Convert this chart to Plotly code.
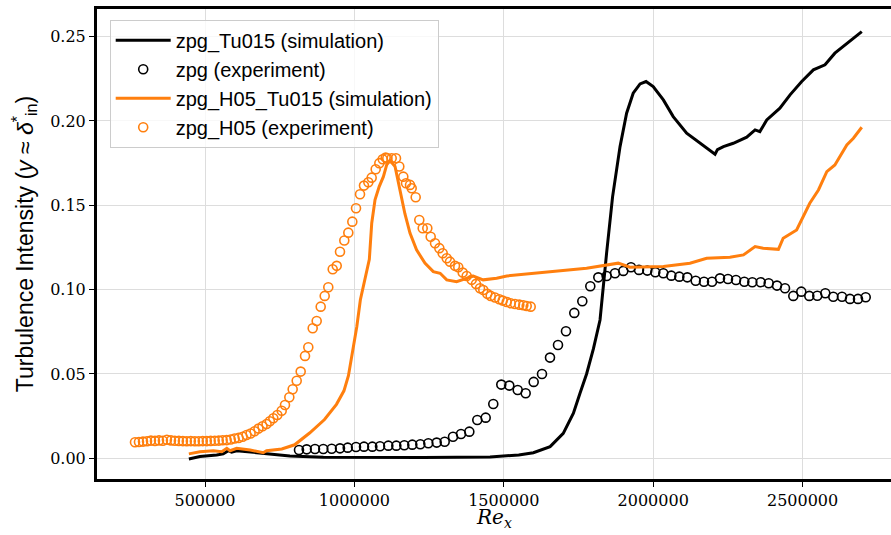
import plotly.graph_objects as go

# ---------------- data ----------------
# zpg (experiment)
zpg_exp_x = [814.6e3, 840.3e3, 868.1e3, 895.9e3, 924.0e3, 951.8e3, 977.6e3, 1005.4e3, 1032.1e3, 1060.0e3,
             1085.7e3, 1113.5e3, 1140.3e3, 1167.0e3, 1193.8e3, 1220.6e3, 1247.4e3, 1275.4e3, 1302.2e3, 1330.0e3,
             1356.8e3, 1384.6e3, 1411.3e3, 1439.4e3, 1464.8e3, 1491.6e3, 1518.4e3, 1546.5e3, 1573.2e3, 1600.0e3,
             1627.8e3, 1654.6e3, 1681.4e3, 1708.1e3, 1735.9e3, 1762.7e3, 1789.5e3, 1816.3e3, 1844.3e3, 1872.2e3,
             1899.9e3, 1925.7e3, 1952.4e3, 1980.3e3, 2007.0e3, 2033.8e3, 2060.6e3, 2087.4e3, 2114.1e3, 2142.2e3,
             2170.0e3, 2196.8e3, 2223.6e3, 2250.3e3, 2277.1e3, 2304.9e3, 2331.7e3, 2359.7e3, 2386.5e3, 2414.3e3,
             2441.1e3, 2468.9e3, 2495.6e3, 2522.4e3, 2549.2e3, 2576.0e3, 2602.7e3, 2631.9e3, 2658.6e3, 2685.4e3,
             2711.2e3]
zpg_exp_y = [0.0049, 0.0053, 0.0055, 0.0055, 0.0057, 0.0059, 0.0063, 0.0067, 0.0069, 0.0069,
             0.0071, 0.0075, 0.0075, 0.0077, 0.0081, 0.0083, 0.0089, 0.0093, 0.0098, 0.0128,
             0.0144, 0.0158, 0.0227, 0.0241, 0.0322, 0.0437, 0.0431, 0.0405, 0.0386, 0.0453,
             0.0500, 0.0597, 0.0672, 0.0753, 0.0862, 0.0931, 0.1020, 0.1073, 0.1081, 0.1097,
             0.1111, 0.1133, 0.1117, 0.1113, 0.1103, 0.1097, 0.1083, 0.1077, 0.1073, 0.1053,
             0.1047, 0.1047, 0.1067, 0.1063, 0.1057, 0.1047, 0.1044, 0.1044, 0.1038, 0.1024,
             0.1008, 0.0963, 0.0988, 0.0963, 0.0964, 0.0979, 0.0958, 0.0958, 0.0945, 0.0945,
             0.0955]

# zpg_H05 (experiment)
h05_exp_x = [265.7e3, 279.0e3, 292.5e3, 306.0e3, 319.0e3, 332.5e3, 346.0e3, 359.0e3, 372.5e3, 386.0e3,
             399.0e3, 412.5e3, 426.0e3, 439.0e3, 452.5e3, 466.0e3, 479.0e3, 492.5e3, 506.0e3, 519.0e3,
             532.5e3, 546.0e3, 559.0e3, 572.5e3, 586.0e3, 599.0e3, 612.5e3, 626.0e3, 639.0e3, 652.5e3,
             666.0e3, 679.0e3, 692.5e3, 706.0e3, 717.0e3,
             728.7e3, 742.1e3, 756.7e3, 767.7e3, 782.2e3, 793.4e3, 806.9e3, 820.2e3, 834.7e3, 845.7e3,
             860.4e3, 873.8e3, 887.2e3, 900.6e3, 912.6e3, 927.4e3, 940.8e3, 951.8e3, 966.2e3, 979.6e3,
             993.0e3, 1005.4e3, 1018.8e3, 1032.1e3, 1046.6e3, 1057.8e3, 1071.2e3, 1083.4e3, 1094.7e3, 1104.7e3,
             1110.1e3, 1124.8e3, 1139.2e3, 1150.3e3, 1163.7e3, 1172.7e3, 1186.1e3, 1191.7e3, 1205.1e3, 1217.2e3,
             1228.6e3, 1244.0e3, 1255.3e3, 1269.8e3, 1284.2e3, 1295.5e3, 1308.9e3, 1319.9e3, 1336.7e3, 1347.7e3,
             1362.4e3, 1375.8e3, 1392.6e3, 1406.9e3, 1420.3e3, 1431.4e3, 1444.7e3, 1456.1e3, 1470.5e3, 1484.9e3,
             1496.3e3, 1509.7e3, 1523.1e3, 1537.5e3, 1551.9e3, 1565.3e3, 1576.6e3, 1590.0e3]
h05_exp_y = [0.0095, 0.0097, 0.0099, 0.0101, 0.0105, 0.0103, 0.0106, 0.0104, 0.0110, 0.0106,
             0.0104, 0.0103, 0.0102, 0.0101, 0.0102, 0.0101, 0.0101, 0.0102, 0.0102, 0.0103,
             0.0104, 0.0105, 0.0107, 0.0108, 0.0111, 0.0117, 0.0121, 0.0128, 0.0138, 0.0147,
             0.0160, 0.0176, 0.0190, 0.0203, 0.0220,
             0.0237, 0.0257, 0.0282, 0.0316, 0.0362, 0.0409, 0.0460, 0.0514, 0.0607, 0.0658,
             0.0771, 0.0814, 0.0899, 0.0963, 0.1014, 0.1121, 0.1141, 0.1225, 0.1291, 0.1338,
             0.1403, 0.1483, 0.1566, 0.1617, 0.1637, 0.1664, 0.1714, 0.1750, 0.1773, 0.1783,
             0.1779, 0.1779, 0.1779, 0.1730, 0.1670, 0.1631, 0.1621, 0.1601, 0.1548, 0.1413,
             0.1364, 0.1364, 0.1314, 0.1275, 0.1246, 0.1216, 0.1186, 0.1166, 0.1141, 0.1133,
             0.1101, 0.1081, 0.1058, 0.1034, 0.1008, 0.0998, 0.0975, 0.0963, 0.0953, 0.0943,
             0.0935, 0.0927, 0.0919, 0.0915, 0.0911, 0.0907, 0.0903, 0.0899]

# zpg_Tu015 (simulation)
zpg_sim_x = [446e3, 483e3, 539e3, 561e3, 578e3, 589e3, 606e3, 639e3, 695e3, 784e3, 896e3, 1007e3, 1230e3,
             1454e3, 1498e3, 1550e3, 1599e3, 1655e3, 1699e3, 1733e3, 1755e3, 1777e3, 1800e3, 1822e3, 1844e3,
             1864e3, 1889e3, 1911e3, 1933e3, 1956e3, 1976e3, 2000e3, 2034e3, 2067e3, 2112e3, 2157e3, 2190e3,
             2207e3, 2215e3, 2235e3, 2268e3, 2313e3, 2341e3, 2357e3, 2380e3, 2424e3, 2458e3, 2497e3, 2536e3,
             2575e3, 2608e3, 2648e3, 2698e3]
zpg_sim_y = [-0.0004, 0.0010, 0.0020, 0.0026, 0.0045, 0.0036, 0.0045, 0.0039, 0.0026, 0.0014, 0.0006, 0.0004, 0.0004,
             0.0008, 0.0014, 0.0020, 0.0033, 0.0069, 0.0148, 0.0267, 0.0386, 0.0500, 0.0650, 0.0820, 0.1216,
             0.1550, 0.1848, 0.2046, 0.2165, 0.2220, 0.2234, 0.2204, 0.2125, 0.2026, 0.1928, 0.1868, 0.1829,
             0.1803, 0.1830, 0.1848, 0.1868, 0.1904, 0.1947, 0.1937, 0.2006, 0.2076, 0.2155, 0.2234, 0.2303,
             0.2333, 0.2402, 0.2461, 0.2530]

# zpg_H05_Tu015 (simulation)
h05_sim_x = [446e3, 483e3, 528e3, 556e3, 573e3, 584e3, 606e3, 651e3, 695e3, 706e3, 757e3, 800e3, 850e3,
             900e3, 940e3, 965e3, 980e3, 995e3, 1008e3, 1020e3, 1035e3, 1050e3, 1058e3, 1069e3, 1083e3,
             1097e3, 1108e3, 1119e3, 1136e3, 1153e3, 1169e3, 1186e3, 1208e3, 1236e3, 1264e3, 1287e3, 1309e3,
             1342e3, 1376e3, 1398e3, 1431e3, 1476e3, 1510e3, 1565e3, 1610e3, 1655e3, 1699e3, 1777e3, 1883e3,
             1922e3, 2034e3, 2123e3, 2179e3, 2257e3, 2302e3, 2341e3, 2368e3, 2419e3, 2435e3, 2480e3, 2524e3,
             2553e3, 2581e3, 2608e3, 2648e3, 2670e3, 2698e3]
h05_sim_y = [0.0026, 0.0039, 0.0045, 0.0039, 0.0059, 0.0045, 0.0059, 0.0049, 0.0033, 0.0045, 0.0055, 0.0080, 0.0150,
             0.0230, 0.0320, 0.0400, 0.0490, 0.0650, 0.0780, 0.0940, 0.1060, 0.1180, 0.1394, 0.1532, 0.1611,
             0.1670, 0.1740, 0.1765, 0.1730, 0.1590, 0.1450, 0.1335, 0.1236, 0.1157, 0.1107, 0.1097, 0.1058,
             0.1047, 0.1068, 0.1081, 0.1058, 0.1068, 0.1081, 0.1091, 0.1097, 0.1107, 0.1117, 0.1127, 0.1157,
             0.1133, 0.1137, 0.1157, 0.1186, 0.1192, 0.1206, 0.1255, 0.1245, 0.1239, 0.1305, 0.1354, 0.1512,
             0.1591, 0.1700, 0.1739, 0.1858, 0.1898, 0.1963]

x_ticks = [500000, 1000000, 1500000, 2000000, 2500000]
y_ticks = [0.00, 0.05, 0.10, 0.15, 0.20, 0.25]

BLACK = "#000000"
ORANGE = "#ff7f0e"

fig = go.Figure()
fig.add_trace(go.Scatter(x=zpg_sim_x, y=zpg_sim_y, mode="lines", name="zpg_Tu015 (simulation)",
                         line=dict(color=BLACK, width=3)))
fig.add_trace(go.Scatter(x=zpg_exp_x, y=zpg_exp_y, mode="markers", name="zpg (experiment)",
                         marker=dict(symbol="circle-open", size=9, color=BLACK, line=dict(width=1.6, color=BLACK))))
fig.add_trace(go.Scatter(x=h05_sim_x, y=h05_sim_y, mode="lines", name="zpg_H05_Tu015 (simulation)",
                         line=dict(color=ORANGE, width=3)))
fig.add_trace(go.Scatter(x=h05_exp_x, y=h05_exp_y, mode="markers", name="zpg_H05 (experiment)",
                         marker=dict(symbol="circle-open", size=9, color=ORANGE, line=dict(width=1.6, color=ORANGE))))

serif = "DejaVu Serif"
sans = "Liberation Sans"

fig.update_layout(
    width=891, height=535,
    margin=dict(l=97, r=0, t=9, b=56),
    plot_bgcolor="white", paper_bgcolor="white",
    showlegend=True,
    legend=dict(x=0.016, y=0.977, xanchor="left", yanchor="top",
                bgcolor="rgba(255,255,255,0.8)", bordercolor="#cccccc", borderwidth=1,
                itemwidth=55,
                font=dict(family=sans, size=20, color="black"), tracegroupgap=0),
    xaxis=dict(range=[138553, 2795840], tickvals=x_ticks, ticktext=[str(v) for v in x_ticks],
               automargin=False,
               showgrid=True, gridcolor="#dddddd", gridwidth=1, zeroline=False,
               showline=True, linecolor="black", linewidth=3, mirror=True,
               ticks="outside", ticklen=5, tickwidth=1.2, tickcolor="black",
               tickfont=dict(family=serif, size=16, color="black")),
    yaxis=dict(range=[-0.01228, 0.2664], tickvals=y_ticks, ticktext=["%.2f" % v for v in y_ticks],
               automargin=False,
               showgrid=True, gridcolor="#dddddd", gridwidth=1, zeroline=False,
               showline=True, linecolor="black", linewidth=3, mirror=False,
               ticks="outside", ticklen=5, tickwidth=1.2, tickcolor="black",
               tickfont=dict(family=serif, size=16, color="black"),
               title=dict(text="Turbulence Intensity (<i>y</i> ≈ <i>δ</i><sup>*</sup><sub>in</sub>)",
                          font=dict(family=sans, size=23, color="black"), standoff=11)),
    annotations=[dict(text="<i>Re<sub>x</sub></i>", xref="paper", yref="paper", x=0.5, y=-0.115,
                      xanchor="center", yanchor="bottom", showarrow=False,
                      font=dict(family=serif, size=20, color="black"))],
)

fig.write_html("out.html")
